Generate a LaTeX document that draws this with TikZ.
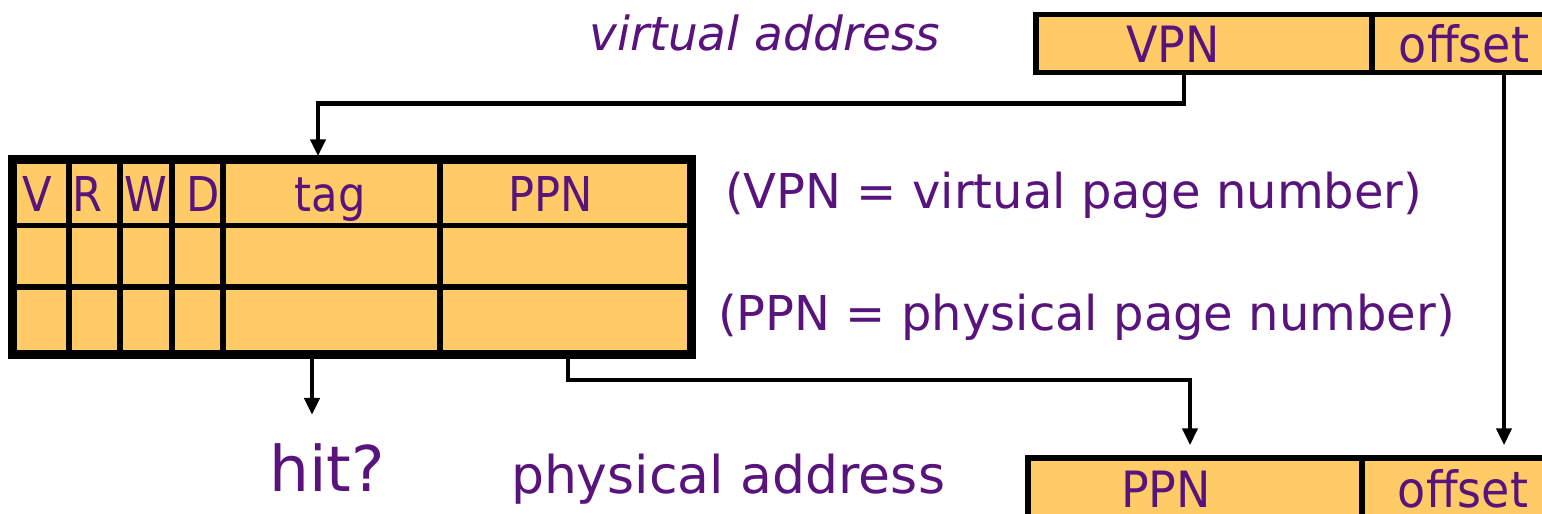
\documentclass[tikz,border=0pt]{standalone}
\usepackage{fontspec}
\setmainfont{DejaVu Sans}
\newfontfamily\boxfont[FakeStretch=0.92]{DejaVu Sans}
\newfontfamily\hdrfont[FakeStretch=0.9]{DejaVu Sans}
\usetikzlibrary{arrows.meta}
\definecolor{cellfill}{RGB}{254,203,102}
\definecolor{txtpurple}{RGB}{88,20,124}
\tikzset{
  cell/.style={draw=black, line width=5.5pt, fill=cellfill, inner sep=0pt},
  boxtxt/.style={inner sep=0pt, anchor=base, text=txtpurple, font=\boxfont\fontsize{50}{60}\selectfont},
  hdrtxt/.style={inner sep=0pt, anchor=base, text=txtpurple, font=\hdrfont\fontsize{48}{56}\selectfont},
  lbl/.style={inner sep=0pt, text=txtpurple, anchor=base},
  conn/.style={draw=black, line width=4.5pt, -{Triangle[width=15pt,length=17pt]}},
}
\begin{document}
\begin{tikzpicture}[x=1pt,y=-1pt]
\useasboundingbox (0,0) rectangle (1542,514);
\clip (0,0) rectangle (1542,514);
% virtual address
\node[cell, minimum width=336pt, minimum height=58pt] (vpn) at (1204,43.5) {};
\node[cell, minimum width=188pt, minimum height=58pt] (voff) at (1466,43.5) {};
\node[boxtxt] (vpntxt) at (1173,62) {VPN};
\node[boxtxt] (vofftxt) at (1464,62) {offset};
% physical address
\node[cell, minimum width=334pt, minimum height=64pt] (pppn) at (1195,490) {};
\node[cell, minimum width=198pt, minimum height=64pt] (poff) at (1461,490) {};
\node[boxtxt] (pppntxt) at (1166,507) {PPN};
\node[boxtxt] (pofftxt) at (1463,507) {offset};
% TLB table
\foreach \r/\ya/\yb in {1/161/225.5, 2/225.5/287, 3/287/352.5}{
  \foreach \c/\xa/\xb in {1/14/69, 2/69/120, 3/120/172, 4/172/223, 5/223/440, 6/440/690}{
    \node[cell, minimum width={\xb-\xa}, minimum height={\yb-\ya}] (c\r\c) at ({(\xa+\xb)/2},{(\ya+\yb)/2}) {};
  }
}
\draw[line width=6.5pt] (c11.north west) rectangle (c36.south east);
\node[hdrtxt] (hv) at (37,211) {V};
\node[hdrtxt] (hr) at (88,211) {R};
\node[hdrtxt] (hw) at (146,211) {W};
\node[hdrtxt] (hd) at (203,211) {D};
\node[hdrtxt] (htag) at (330,211) {tag};
\node[hdrtxt] (hppn) at (551,211) {PPN};
% labels
\node[lbl, font=\itshape\fontsize{47}{56}\selectfont] (va) at (765,50) {virtual address};
\node[lbl, font=\fontsize{48}{58}\selectfont, anchor=base west] (vpnlbl) at (725,208) {(VPN = virtual page number)};
\node[lbl, font=\fontsize{48}{58}\selectfont, anchor=base west] (ppnlbl) at (718,330) {(PPN = physical page number)};
\node[lbl, font=\fontsize{63}{74}\selectfont] (hit) at (327,491) {hit?};
\node[lbl, font=\fontsize{52}{62}\selectfont] (pa) at (728,493) {physical address};
% connectors
\draw[conn, shorten >=2pt] ([xshift=-20pt]vpn.south) -- ++(0,28) -| ([xshift=-13.5pt]c15.north);
\draw[conn, shorten >=10pt] ([xshift=38pt]voff.south) -- ([xshift=43pt]poff.north);
\draw[conn, shorten >=28pt] ([xshift=-19.5pt]c35.south) -- ([xshift=-15pt]hit.north);
\draw[conn, shorten >=10pt] ([xshift=3pt]c36.south) -- ++(0,24.5) -| ([xshift=-5pt]pppn.north);
\end{tikzpicture}
\end{document}
